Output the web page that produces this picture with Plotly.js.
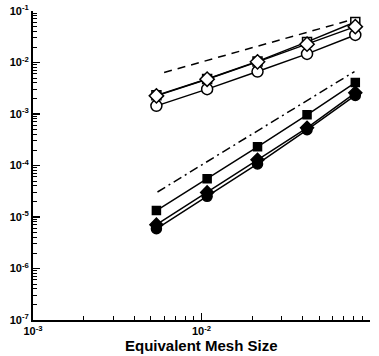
<!DOCTYPE html>
<html>
<head>
<meta charset="utf-8">
<script src="https://cdn.plot.ly/plotly-3.0.1.min.js"></script>
<style>html,body{margin:0;padding:0;background:#fff;}#chart{width:379px;height:356px;}</style>
</head>
<body>
<div id="chart"></div>
<script>
const meshSize = [0.0054, 0.0108, 0.0215, 0.0423, 0.0818];
const openSquare = [2.3e-3, 4.8e-3, 0.0105, 0.0251, 0.0612];
const openDiamond = [2.25e-3, 4.74e-3, 0.0103, 0.0227, 0.0497];
const openCircle = [1.44e-3, 3.04e-3, 6.67e-3, 0.0147, 0.0343];
const filledSquare = [1.33e-5, 5.55e-5, 2.31e-4, 9.63e-4, 4.07e-3];
const filledDiamond = [7.1e-6, 3.0e-5, 1.29e-4, 5.4e-4, 2.58e-3];
const filledCircle = [5.9e-6, 2.52e-5, 1.07e-4, 4.94e-4, 2.29e-3];
const firstOrderX = [0.006, 0.0809];
const firstOrderY = [6.4e-3, 0.07];
const secondOrderX = [0.00548, 0.0809];
const secondOrderY = [3.06e-5, 6.67e-3];
const exponents = [-7, -6, -5, -4, -3, -2, -1];

function minorVals(lo, hi) {
  const v = [];
  for (let e = lo; e < hi; e++) for (let d = 2; d <= 9; d++) v.push(d * Math.pow(10, e));
  return v;
}
const powText = e => '10<sup>' + (e < 0 ? '-' + (-e) : e) + '</sup>';
const alias = {};
exponents.forEach(e => {
  alias['1e' + e] = powText(e);
  alias['1e\u2212' + (-e)] = powText(e);
});

function series(y, symbol, filled, size) {
  return {
    x: meshSize, y: y, type: 'scatter', mode: 'lines+markers',
    line: {color: '#000', width: 1.5},
    marker: {symbol: symbol, size: size, color: filled ? '#000' : '#fff',
             line: {color: '#000', width: 1.5}},
    showlegend: false, hoverinfo: 'skip'
  };
}

const traces = [
  {x: firstOrderX, y: firstOrderY, type: 'scatter', mode: 'lines',
   line: {color: '#000', width: 1.5, dash: '8px,6px'}, showlegend: false},
  {x: secondOrderX, y: secondOrderY, type: 'scatter', mode: 'lines',
   line: {color: '#000', width: 1.5, dash: '9px,4px,2px,4px'}, showlegend: false},
  series(openCircle, 'circle', false, 11),
  series(openSquare, 'square', false, 9),
  series(openDiamond, 'diamond', false, 11),
  series(filledSquare, 'square', true, 8),
  series(filledCircle, 'circle', true, 10),
  series(filledDiamond, 'diamond', true, 10)
];

const fam = '"Liberation Sans", Arial, sans-serif';
const tickFont = {family: fam, size: 11, color: '#000', weight: 'bold'};

const axisBase = {
  type: 'log', dtick: 1, tickformat: '.0e', labelalias: alias,
  showgrid: false, zeroline: false, showline: true, linecolor: '#000', linewidth: 2,
  ticks: 'inside', ticklen: 7, tickwidth: 1.5, tickcolor: '#000', tickfont: tickFont
};

const layout = {
  width: 379, height: 356,
  margin: {l: 33, r: 9, t: 11, b: 36},
  paper_bgcolor: '#fff', plot_bgcolor: '#fff',
  xaxis: Object.assign({}, axisBase, {
    range: [-3, -1],
    minor: {tickmode: 'array', tickvals: minorVals(-3, -1), ticks: 'inside', ticklen: 4,
            tickwidth: 1, tickcolor: '#000', showgrid: false}
  }),
  yaxis: Object.assign({}, axisBase, {
    range: [-7, -1],
    minor: {tickmode: 'array', tickvals: minorVals(-7, -1), ticks: 'inside', ticklen: 4,
            tickwidth: 1, tickcolor: '#000', showgrid: false}
  }),
  annotations: [{
    text: 'Equivalent Mesh Size', xref: 'paper', yref: 'paper', x: 0.5, y: -0.083,
    xanchor: 'center', yanchor: 'middle', showarrow: false,
    font: {family: fam, size: 15, color: '#000', weight: 'bold'}
  }]
};

Plotly.newPlot('chart', traces, layout, {staticPlot: true, displayModeBar: false});
</script>
</body>
</html>
